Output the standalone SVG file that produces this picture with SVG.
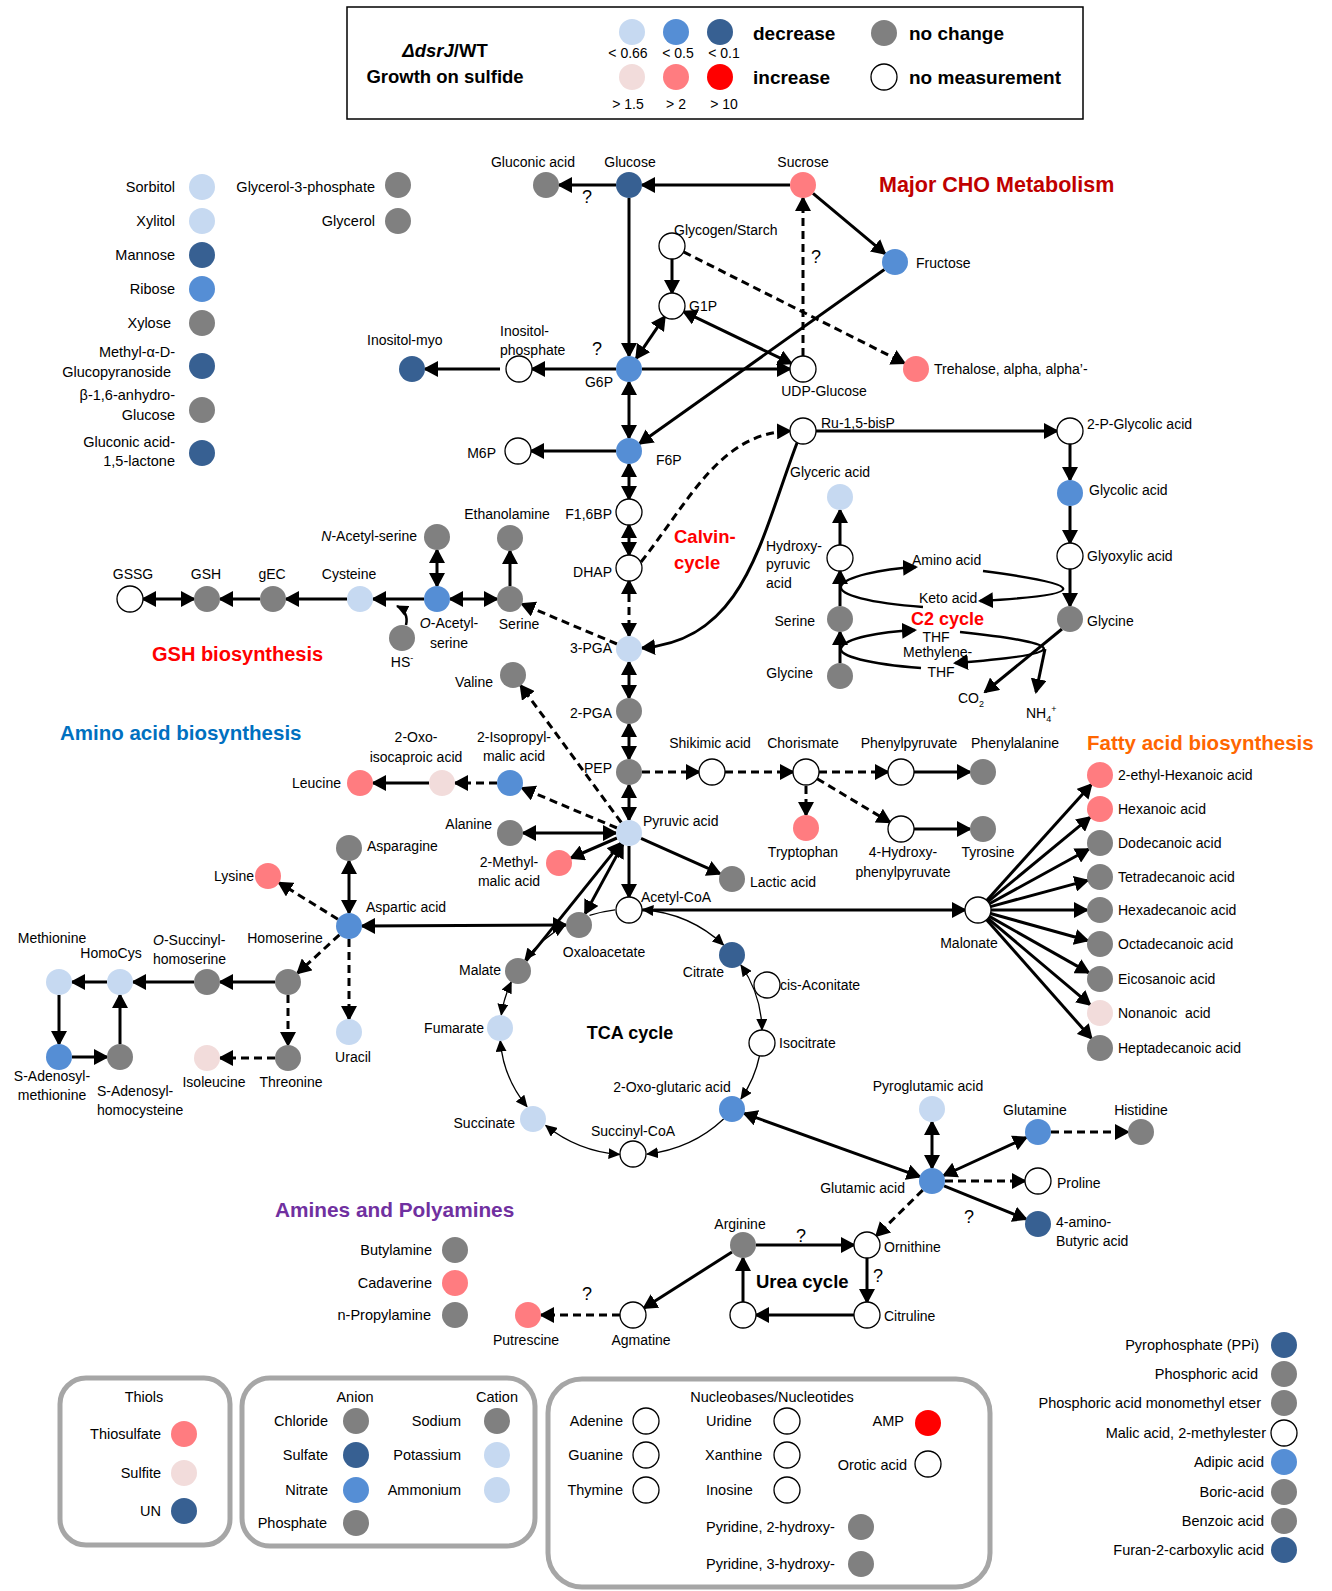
<svg xmlns="http://www.w3.org/2000/svg" width="1332" height="1591" viewBox="0 0 1332 1591">
<style>
text{font-family:"Liberation Sans",Arial,sans-serif;font-size:14px;fill:#000}
.s{font-size:14.5px}
.m{text-anchor:middle}
.e{text-anchor:end}
.b{font-weight:bold}
.lb{fill:#C6D9F1}.mb{fill:#558ED5}.db{fill:#376092}.pp{fill:#F2DCDB}.sa{fill:#FF7C80}.rd{fill:#FF0000}.gr{fill:#808080}.wh{fill:#fff;stroke:#000;stroke-width:1.3}
.k{fill:none;stroke:#000;stroke-width:3}
.d{stroke-dasharray:8 5}
.th{stroke-width:1.3}
.q{font-size:18px}
.box{fill:none;stroke:#A6A6A6;stroke-width:5}
</style>
<defs>
<marker id="ah" viewBox="0 0 15 16" refX="13" refY="8" markerWidth="15" markerHeight="16" markerUnits="userSpaceOnUse" orient="auto-start-reverse"><path d="M0,0 L15,8 L0,16 z" fill="#000"/></marker>
<marker id="as" viewBox="0 0 12 11" refX="11" refY="5.5" markerWidth="12" markerHeight="11" markerUnits="userSpaceOnUse" orient="auto-start-reverse"><path d="M0,0 L12,5.5 L0,11 z" fill="#000"/></marker>
</defs>
<rect width="1332" height="1591" fill="#fff"/>

<g id="legend">
<rect x="347" y="7" width="736" height="112" fill="#fff" stroke="#000" stroke-width="1.5"/>
<text class="b m" x="445" y="57" style="font-size:18.5px"><tspan font-style="italic">ΔdsrJ</tspan>/WT</text>
<text class="b m" x="445" y="83" style="font-size:18.5px">Growth on sulfide</text>
<circle class="lb" cx="632" cy="32" r="13"/><circle class="mb" cx="676" cy="32" r="13"/><circle class="db" cx="720" cy="32" r="13"/>
<circle class="pp" cx="632" cy="77" r="13"/><circle class="sa" cx="676" cy="77" r="13"/><circle class="rd" cx="720" cy="77" r="13"/>
<text class="m" x="628" y="58">&lt; 0.66</text><text class="m" x="678" y="58">&lt; 0.5</text><text class="m" x="724" y="58">&lt; 0.1</text>
<text class="m" x="628" y="109">&gt; 1.5</text><text class="m" x="676" y="109">&gt; 2</text><text class="m" x="724" y="109">&gt; 10</text>
<text class="b" x="753" y="40" style="font-size:19px">decrease</text>
<text class="b" x="753" y="84" style="font-size:19px">increase</text>
<circle class="gr" cx="884" cy="33" r="13"/><circle class="wh" cx="884" cy="77" r="13"/>
<text class="b" x="909" y="40" style="font-size:19px">no change</text>
<text class="b" x="909" y="84" style="font-size:19px">no measurement</text>
</g>

<g id="titles">
<text class="b" x="879" y="192" style="font-size:21.5px;fill:#C00000">Major CHO Metabolism</text>
<text class="b" x="674" y="543" style="font-size:18.5px;fill:#FF0000">Calvin-</text>
<text class="b" x="674" y="569" style="font-size:18.5px;fill:#FF0000">cycle</text>
<text class="b" x="911" y="625" style="font-size:18px;fill:#FF0000">C2 cycle</text>
<text class="b" x="152" y="661" style="font-size:20px;fill:#FF0000">GSH biosynthesis</text>
<text class="b" x="60" y="740" style="font-size:20.5px;fill:#0070C0">Amino acid biosynthesis</text>
<text class="b" x="1087" y="750" style="font-size:20.5px;fill:#FF6600">Fatty acid biosynthesis</text>
<text class="b m" x="630" y="1039" style="font-size:18px">TCA cycle</text>
<text class="b" x="756" y="1288" style="font-size:18.5px">Urea cycle</text>
<text class="b" x="275" y="1217" style="font-size:20.8px;fill:#7030A0">Amines and Polyamines</text>
</g>

<g id="connectors">
<path class="k" d="M616 185 L559 185" marker-end="url(#ah)"/>
<path class="k" d="M790 185 L642 185" marker-end="url(#ah)"/>
<path class="k" d="M813 193.3 L885 253.7" marker-end="url(#ah)"/>
<path class="k" d="M629 198 L629 356" marker-end="url(#ah)"/>
<path class="k" d="M672 259 L672 293" marker-end="url(#ah)"/>
<path class="k" d="M636.3 358.3 L664.7 316.7" marker-start="url(#ah)" marker-end="url(#ah)"/>
<path class="k" d="M683.7 311.6 L791.3 363.4" marker-start="url(#ah)" marker-end="url(#ah)"/>
<path class="k" d="M642 369 L790 369" marker-end="url(#ah)"/>
<path class="k d" d="M803 356 L803 198" marker-end="url(#ah)"/>
<path class="k d" d="M683.6 251.9 L904.4 363.1" marker-end="url(#ah)"/>
<path class="k" d="M616 369 L532 369" marker-end="url(#ah)"/>
<path class="k" d="M500 369 L425 369" marker-end="url(#ah)"/>
<path class="k" d="M884.4 269.5 L639.6 443.5" marker-end="url(#ah)"/>
<path class="k" d="M629 382 L629 438" marker-start="url(#ah)" marker-end="url(#ah)"/>
<path class="k" d="M616 451 L531 451" marker-end="url(#ah)"/>
<path class="k" d="M629 464 L629 499" marker-start="url(#ah)" marker-end="url(#ah)"/>
<path class="k" d="M629 525 L629 555" marker-start="url(#ah)" marker-end="url(#ah)"/>
<path class="k d" d="M629 581 L629 636" marker-start="url(#ah)" marker-end="url(#ah)"/>
<path class="k" d="M629 662 L629 698" marker-start="url(#ah)" marker-end="url(#ah)"/>
<path class="k" d="M629 724 L629 759" marker-start="url(#ah)" marker-end="url(#ah)"/>
<path class="k" d="M629 785 L629 820" marker-start="url(#ah)" marker-end="url(#ah)"/>
<path class="k" d="M629 846 L629 897" marker-end="url(#ah)"/>
<path class="k d" d="M641 562 C690 500 720 433 790 431" marker-end="url(#ah)"/>
<path class="k" d="M797 443 C760 540 745 640 642 648" marker-end="url(#ah)"/>
<path class="k" d="M816 431 L1057 431" marker-end="url(#ah)"/>
<path class="k" d="M1070 444 L1070 480" marker-end="url(#ah)"/>
<path class="k" d="M1070 506 L1070 543" marker-end="url(#ah)"/>
<path class="k" d="M1070 569 L1070 606" marker-end="url(#ah)"/>
<path class="k" d="M1062 629 L985 692" marker-end="url(#ah)"/>
<path class="k" d="M1045 649 L1036 692" marker-end="url(#ah)"/>
<path class="k" d="M840 606 L840 571" marker-end="url(#ah)"/>
<path class="k" d="M840 545 L840 510" marker-end="url(#ah)"/>
<path class="k" d="M840 663 L840 632" marker-end="url(#ah)"/>
<path class="k" style="stroke-width:2.5" d="M923 607 C870 603 838 595 841 586 C845 577 880 569 916 567" marker-end="url(#ah)"/>
<path class="k" style="stroke-width:2.5" d="M983 571 Q1145 592 980 601" marker-end="url(#ah)"/>
<path class="k" style="stroke-width:2.5" d="M921 668 C868 664 838 656 841 648 C845 638 880 632 915 630" marker-end="url(#ah)"/>
<path class="k" style="stroke-width:2.5" d="M960 632 Q1130 650 955 663" marker-end="url(#ah)"/>
<path class="k" d="M510 586 L510 551" marker-end="url(#ah)"/>
<path class="k d" d="M617 644 L522 604" marker-end="url(#ah)"/>
<path class="k" d="M497 599 L450 599" marker-start="url(#ah)" marker-end="url(#ah)"/>
<path class="k" d="M437 550 L437 586" marker-start="url(#ah)" marker-end="url(#ah)"/>
<path class="k" d="M424 599 L373 599" marker-end="url(#ah)"/>
<path class="k" d="M347 599 L286 599" marker-end="url(#ah)"/>
<path class="k" d="M260 599 L220 599" marker-end="url(#ah)"/>
<path class="k" d="M143 599 L194 599" marker-start="url(#ah)" marker-end="url(#ah)"/>
<path class="k" style="stroke-width:2.5" d="M406 625 Q409 612 397 606" marker-end="url(#as)"/>
<path class="k d" d="M621.3 822.5 L520.7 685.5" marker-end="url(#ah)"/>
<path class="k d" d="M617 828 L522 788" marker-end="url(#ah)"/>
<path class="k d" d="M497 783 L455 783" marker-end="url(#ah)"/>
<path class="k" d="M429 783 L373 783" marker-end="url(#ah)"/>
<path class="k" d="M523 833 L616 833" marker-start="url(#ah)" marker-end="url(#ah)"/>
<path class="k" d="M617 838 L571 858" marker-end="url(#ah)"/>
<path class="k" d="M641 838.3 L720 873.7" marker-end="url(#ah)"/>
<path class="k" d="M622.8 844.4 L585.2 913.6" marker-start="url(#ah)" marker-end="url(#ah)"/>
<path class="k" d="M526.1 960.9 L620.9 843.1" marker-end="url(#ah)"/>
<path class="k" d="M642 910 L965 910" marker-end="url(#ah)"/>
<path class="k" d="M986.7 900.4 L1091.3 784.6" marker-end="url(#ah)"/>
<path class="k" d="M988 901.7 L1090 817.3" marker-end="url(#ah)"/>
<path class="k" d="M989.4 903.7 L1088.6 849.3" marker-end="url(#ah)"/>
<path class="k" d="M990.5 906.6 L1087.5 880.4" marker-end="url(#ah)"/>
<path class="k" d="M991 910 L1087 910" marker-end="url(#ah)"/>
<path class="k" d="M990.5 913.5 L1087.5 940.5" marker-end="url(#ah)"/>
<path class="k" d="M989.3 916.4 L1088.7 972.6" marker-end="url(#ah)"/>
<path class="k" d="M987.9 918.4 L1090.1 1004.6" marker-end="url(#ah)"/>
<path class="k" d="M986.6 919.7 L1091.4 1038.3" marker-end="url(#ah)"/>
<path class="k d" d="M642 772 L699 772" marker-end="url(#ah)"/>
<path class="k d" d="M725 772 L793 772" marker-end="url(#ah)"/>
<path class="k d" d="M819 772 L888 772" marker-end="url(#ah)"/>
<path class="k" d="M914 772 L970 772" marker-end="url(#ah)"/>
<path class="k d" d="M806 786 L806 815" marker-end="url(#ah)"/>
<path class="k d" d="M817.1 778.7 L889.9 822.3" marker-end="url(#ah)"/>
<path class="k" d="M914 829 L970 829" marker-end="url(#ah)"/>
<path class="k th" d="M589.5 915.4 A131 123 0 0 1 615 909.9"/>
<path class="k th" d="M642.4 909.5 A131 123 0 0 1 723.6 945" marker-start="url(#as)" marker-end="url(#as)"/>
<path class="k th" d="M740.9 965 A131 123 0 0 1 762 1029.9" marker-start="url(#as)" marker-end="url(#as)"/>
<path class="k th" d="M759.6 1055.5 A131 123 0 0 1 740.9 1099" marker-end="url(#as)"/>
<path class="k th" d="M723.6 1119 A131 123 0 0 1 647 1154.1" marker-end="url(#as)"/>
<path class="k th" d="M619.6 1154.5 A131 123 0 0 1 545.7 1125.4" marker-start="url(#as)" marker-end="url(#as)"/>
<path class="k th" d="M527 1106.7 A131 123 0 0 1 500.3 1040.6" marker-start="url(#as)" marker-end="url(#as)"/>
<path class="k th" d="M501.3 1014.9 A131 123 0 0 1 511.3 982" marker-start="url(#as)" marker-end="url(#as)"/>
<path class="k th" d="M525 959.7 A131 123 0 0 1 564.5 926" marker-start="url(#as)" marker-end="url(#as)"/>
<path class="k" d="M362 926 L566 925" marker-start="url(#ah)" marker-end="url(#ah)"/>
<path class="k" d="M349 861 L349 913" marker-start="url(#ah)" marker-end="url(#ah)"/>
<path class="k d" d="M337.9 919.2 L279.1 882.8" marker-end="url(#ah)"/>
<path class="k d" d="M349 939 L349 1019" marker-end="url(#ah)"/>
<path class="k d" d="M339.4 934.8 L297.6 973.2" marker-end="url(#ah)"/>
<path class="k" d="M275 982 L220 982" marker-end="url(#ah)"/>
<path class="k" d="M194 982 L133 982" marker-end="url(#ah)"/>
<path class="k" d="M107 982 L72 982" marker-end="url(#ah)"/>
<path class="k" d="M59 995 L59 1044" marker-end="url(#ah)"/>
<path class="k" d="M72 1057 L107 1057" marker-end="url(#ah)"/>
<path class="k" d="M120 1044 L120 995" marker-end="url(#ah)"/>
<path class="k d" d="M288 995 L288 1045" marker-end="url(#ah)"/>
<path class="k d" d="M275 1058 L220 1058" marker-end="url(#ah)"/>
<path class="k" d="M919.8 1176.6 L744.2 1113.4" marker-start="url(#ah)" marker-end="url(#ah)"/>
<path class="k" d="M932 1168 L932 1122" marker-start="url(#ah)" marker-end="url(#ah)"/>
<path class="k" d="M943.8 1175.5 L1026.2 1137.5" marker-start="url(#ah)" marker-end="url(#ah)"/>
<path class="k d" d="M1051 1132 L1128 1132" marker-end="url(#ah)"/>
<path class="k d" d="M945 1181 L1025 1181" marker-end="url(#ah)"/>
<path class="k" d="M944 1185.9 L1026 1219.1" marker-end="url(#ah)"/>
<path class="k d" d="M922.7 1190.1 L876.3 1235.9" marker-end="url(#ah)"/>
<path class="k" d="M756 1245 L854 1245" marker-end="url(#ah)"/>
<path class="k" d="M867 1258 L867 1302" marker-end="url(#ah)"/>
<path class="k" d="M854 1315 L756 1315" marker-end="url(#ah)"/>
<path class="k" d="M743 1302 L743 1258" marker-end="url(#ah)"/>
<path class="k" d="M732 1252 L644 1308" marker-end="url(#ah)"/>
<path class="k d" d="M620 1315 L541 1315" marker-end="url(#ah)"/>
<text class="m q" x="587" y="203">?</text>
<text class="m q" x="816" y="263">?</text>
<text class="m q" x="597" y="355">?</text>
<text class="m q" x="801" y="1242">?</text>
<text class="m q" x="878" y="1282">?</text>
<text class="m q" x="969" y="1223">?</text>
<text class="m q" x="587" y="1300">?</text>
</g>

<g id="c2-labels">
<text x="912" y="565">Amino acid</text>
<text x="919" y="603">Keto acid</text>
<text class="m" x="936" y="642">THF</text>
<text x="903" y="657">Methylene-</text>
<text class="m" x="941" y="677">THF</text>
<text x="958" y="703">CO<tspan font-size="9" dy="4">2</tspan></text>
<text x="1026" y="718">NH<tspan font-size="9" dy="4">4</tspan><tspan font-size="9" dy="-10">+</tspan></text>
</g>

<g id="side-sugars">
<g id="n-sorbitol"><circle class="lb" cx="202" cy="187" r="13"/><text class="e s" x="175" y="192">Sorbitol</text></g>
<g id="n-xylitol"><circle class="lb" cx="202" cy="221" r="13"/><text class="e s" x="175" y="226">Xylitol</text></g>
<g id="n-mannose"><circle class="db" cx="202" cy="255" r="13"/><text class="e s" x="175" y="260">Mannose</text></g>
<g id="n-ribose"><circle class="mb" cx="202" cy="289" r="13"/><text class="e s" x="175" y="294">Ribose</text></g>
<g id="n-xylose"><circle class="gr" cx="202" cy="323" r="13"/><text class="e s" x="171" y="328">Xylose</text></g>
<g id="n-methylglc"><circle class="db" cx="202" cy="366" r="13"/><text class="e s" x="175" y="357">Methyl-α-D-</text><text class="e s" x="171" y="377">Glucopyranoside</text></g>
<g id="n-anhydroglc"><circle class="gr" cx="202" cy="410" r="13"/><text class="e s" x="175" y="400">β-1,6-anhydro-</text><text class="e s" x="175" y="420">Glucose</text></g>
<g id="n-gluconolactone"><circle class="db" cx="202" cy="453" r="13"/><text class="e s" x="175" y="447">Gluconic acid-</text><text class="e s" x="175" y="466">1,5-lactone</text></g>
<g id="n-g3p"><circle class="gr" cx="398" cy="185" r="13"/><text class="e s" x="375" y="192">Glycerol-3-phosphate</text></g>
<g id="n-glycerol"><circle class="gr" cx="398" cy="221" r="13"/><text class="e s" x="375" y="226">Glycerol</text></g>
</g>

<g id="nodes">
<g id="n-gluconic"><circle class="gr" cx="546" cy="185" r="13"/><text class="m" x="533" y="167">Gluconic acid</text></g>
<g id="n-glucose"><circle class="db" cx="629" cy="185" r="13"/><text class="m" x="630" y="167">Glucose</text></g>
<g id="n-sucrose"><circle class="sa" cx="803" cy="185" r="13"/><text class="m" x="803" y="167">Sucrose</text></g>
<g id="n-fructose"><circle class="mb" cx="895" cy="262" r="13"/><text x="916" y="268">Fructose</text></g>
<g id="n-glycogen"><circle class="wh" cx="672" cy="246" r="13"/><text x="674" y="235">Glycogen/Starch</text></g>
<g id="n-g1p"><circle class="wh" cx="672" cy="306" r="13"/><text x="689" y="311">G1P</text></g>
<g id="n-g6p"><circle class="mb" cx="629" cy="369" r="13"/><text class="m" x="599" y="387">G6P</text></g>
<g id="n-udpglc"><circle class="wh" cx="803" cy="369" r="13"/><text class="m" x="824" y="396">UDP-Glucose</text></g>
<g id="n-trehalose"><circle class="sa" cx="916" cy="369" r="13"/><text x="934" y="374">Trehalose, alpha, alpha’-</text></g>
<g id="n-inositolp"><circle class="wh" cx="519" cy="369" r="13"/><text x="500" y="336">Inositol-</text><text x="500" y="355">phosphate</text></g>
<g id="n-inositolmyo"><circle class="db" cx="412" cy="369" r="13"/><text x="367" y="345">Inositol-myo</text></g>
<g id="n-f6p"><circle class="mb" cx="629" cy="451" r="13"/><text x="656" y="465">F6P</text></g>
<g id="n-m6p"><circle class="wh" cx="518" cy="451" r="13"/><text class="e" x="496" y="458">M6P</text></g>
<g id="n-f16bp"><circle class="wh" cx="629" cy="512" r="13"/><text class="e" x="612" y="519">F1,6BP</text></g>
<g id="n-dhap"><circle class="wh" cx="629" cy="568" r="13"/><text class="e" x="612" y="577">DHAP</text></g>
<g id="n-3pga"><circle class="lb" cx="629" cy="649" r="13"/><text class="e" x="612" y="653">3-PGA</text></g>
<g id="n-2pga"><circle class="gr" cx="629" cy="711" r="13"/><text class="e" x="612" y="718">2-PGA</text></g>
<g id="n-pep"><circle class="gr" cx="629" cy="772" r="13"/><text class="e" x="612" y="773">PEP</text></g>
<g id="n-pyruvate"><circle class="lb" cx="629" cy="833" r="13"/><text x="643" y="826">Pyruvic acid</text></g>
<g id="n-acetylcoa"><circle class="wh" cx="629" cy="910" r="13"/><text x="641" y="902">Acetyl-CoA</text></g>
<g id="n-rubp"><circle class="wh" cx="803" cy="431" r="13"/><text x="821" y="428">Ru-1,5-bisP</text></g>
<g id="n-pglycolate"><circle class="wh" cx="1070" cy="431" r="13"/><text x="1087" y="429">2-P-Glycolic acid</text></g>
<g id="n-glycolate"><circle class="mb" cx="1070" cy="493" r="13"/><text x="1089" y="495">Glycolic acid</text></g>
<g id="n-glyoxylate"><circle class="wh" cx="1070" cy="556" r="13"/><text x="1087" y="561">Glyoxylic acid</text></g>
<g id="n-glycine-r"><circle class="gr" cx="1070" cy="619" r="13"/><text x="1087" y="626">Glycine</text></g>
<g id="n-glycerate"><circle class="lb" cx="840" cy="497" r="13"/><text x="790" y="477">Glyceric acid</text></g>
<g id="n-hydroxypyruvate"><circle class="wh" cx="840" cy="558" r="13"/><text x="766" y="551">Hydroxy-</text><text x="766" y="569">pyruvic</text><text x="766" y="588">acid</text></g>
<g id="n-serine-r"><circle class="gr" cx="840" cy="619" r="13"/><text class="e" x="815" y="626">Serine</text></g>
<g id="n-glycine-l"><circle class="gr" cx="840" cy="676" r="13"/><text class="e" x="813" y="678">Glycine</text></g>
<g id="n-ethanolamine"><circle class="gr" cx="510" cy="538" r="13"/><text class="m" x="507" y="519">Ethanolamine</text></g>
<g id="n-serine-l"><circle class="gr" cx="510" cy="599" r="13"/><text class="m" x="519" y="629">Serine</text></g>
<g id="n-oas"><circle class="mb" cx="437" cy="599" r="13"/><text class="m" x="449" y="628"><tspan font-style="italic">O</tspan>-Acetyl-</text><text class="m" x="449" y="648">serine</text></g>
<g id="n-nas"><circle class="gr" cx="437" cy="537" r="13"/><text class="e" x="417" y="541"><tspan font-style="italic">N</tspan>-Acetyl-serine</text></g>
<g id="n-hs"><circle class="gr" cx="402" cy="638" r="13"/><text class="m" x="402" y="667">HS<tspan font-size="9" dy="-6">-</tspan></text></g>
<g id="n-cysteine"><circle class="lb" cx="360" cy="599" r="13"/><text class="m" x="349" y="579">Cysteine</text></g>
<g id="n-gec"><circle class="gr" cx="273" cy="599" r="13"/><text class="m" x="272" y="579">gEC</text></g>
<g id="n-gsh"><circle class="gr" cx="207" cy="599" r="13"/><text class="m" x="206" y="579">GSH</text></g>
<g id="n-gssg"><circle class="wh" cx="130" cy="599" r="13"/><text class="m" x="133" y="579">GSSG</text></g>
<g id="n-valine"><circle class="gr" cx="513" cy="675" r="13"/><text class="e" x="493" y="687">Valine</text></g>
<g id="n-ipm"><circle class="mb" cx="510" cy="783" r="13"/><text class="m" x="514" y="742">2-Isopropyl-</text><text class="m" x="514" y="761">malic acid</text></g>
<g id="n-oic"><circle class="pp" cx="442" cy="783" r="13"/><text class="m" x="416" y="742">2-Oxo-</text><text class="m" x="416" y="762">isocaproic acid</text></g>
<g id="n-leucine"><circle class="sa" cx="360" cy="783" r="13"/><text class="e" x="341" y="788">Leucine</text></g>
<g id="n-alanine"><circle class="gr" cx="510" cy="833" r="13"/><text class="e" x="492" y="829">Alanine</text></g>
<g id="n-methylmalate"><circle class="sa" cx="559" cy="863" r="13"/><text class="m" x="509" y="867">2-Methyl-</text><text class="m" x="509" y="886">malic acid</text></g>
<g id="n-lactate"><circle class="gr" cx="732" cy="879" r="13"/><text x="750" y="887">Lactic acid</text></g>
<g id="n-shikimate"><circle class="wh" cx="712" cy="772" r="13"/><text class="m" x="710" y="748">Shikimic acid</text></g>
<g id="n-chorismate"><circle class="wh" cx="806" cy="772" r="13"/><text class="m" x="803" y="748">Chorismate</text></g>
<g id="n-phenylpyruvate"><circle class="wh" cx="901" cy="772" r="13"/><text class="m" x="909" y="748">Phenylpyruvate</text></g>
<g id="n-phenylalanine"><circle class="gr" cx="983" cy="772" r="13"/><text class="m" x="1015" y="748">Phenylalanine</text></g>
<g id="n-tryptophan"><circle class="sa" cx="806" cy="828" r="13"/><text class="m" x="803" y="857">Tryptophan</text></g>
<g id="n-hpp"><circle class="wh" cx="901" cy="829" r="13"/><text class="m" x="903" y="857">4-Hydroxy-</text><text class="m" x="903" y="877">phenylpyruvate</text></g>
<g id="n-tyrosine"><circle class="gr" cx="983" cy="829" r="13"/><text class="m" x="988" y="857">Tyrosine</text></g>
<g id="n-malonate"><circle class="wh" cx="978" cy="910" r="13"/><text class="m" x="969" y="948">Malonate</text></g>
<g id="n-ethylhexanoic"><circle class="sa" cx="1100" cy="775" r="13"/><text x="1118" y="780">2-ethyl-Hexanoic acid</text></g>
<g id="n-hexanoic"><circle class="sa" cx="1100" cy="809" r="13"/><text x="1118" y="814">Hexanoic acid</text></g>
<g id="n-dodecanoic"><circle class="gr" cx="1100" cy="843" r="13"/><text x="1118" y="848">Dodecanoic acid</text></g>
<g id="n-tetradecanoic"><circle class="gr" cx="1100" cy="877" r="13"/><text x="1118" y="882">Tetradecanoic acid</text></g>
<g id="n-hexadecanoic"><circle class="gr" cx="1100" cy="910" r="13"/><text x="1118" y="915">Hexadecanoic acid</text></g>
<g id="n-octadecanoic"><circle class="gr" cx="1100" cy="944" r="13"/><text x="1118" y="949">Octadecanoic acid</text></g>
<g id="n-eicosanoic"><circle class="gr" cx="1100" cy="979" r="13"/><text x="1118" y="984">Eicosanoic acid</text></g>
<g id="n-nonanoic"><circle class="pp" cx="1100" cy="1013" r="13"/><text x="1118" y="1018" xml:space="preserve">Nonanoic  acid</text></g>
<g id="n-heptadecanoic"><circle class="gr" cx="1100" cy="1048" r="13"/><text x="1118" y="1053">Heptadecanoic acid</text></g>
<g id="n-oxaloacetate"><circle class="gr" cx="579" cy="925" r="13"/><text class="m" x="604" y="957">Oxaloacetate</text></g>
<g id="n-malate"><circle class="gr" cx="518" cy="971" r="13"/><text class="e" x="501" y="975">Malate</text></g>
<g id="n-fumarate"><circle class="lb" cx="500" cy="1028" r="13"/><text class="e" x="484" y="1033">Fumarate</text></g>
<g id="n-succinate"><circle class="lb" cx="533" cy="1119" r="13"/><text class="e" x="515" y="1128">Succinate</text></g>
<g id="n-succinylcoa"><circle class="wh" cx="633" cy="1154" r="13"/><text class="m" x="633" y="1136">Succinyl-CoA</text></g>
<g id="n-oxoglutarate"><circle class="mb" cx="732" cy="1109" r="13"/><text class="m" x="672" y="1092">2-Oxo-glutaric acid</text></g>
<g id="n-isocitrate"><circle class="wh" cx="762" cy="1043" r="13"/><text x="779" y="1048">Isocitrate</text></g>
<g id="n-cisaconitate"><circle class="wh" cx="767" cy="985" r="13"/><text x="780" y="990">cis-Aconitate</text></g>
<g id="n-citrate"><circle class="db" cx="732" cy="955" r="13"/><text class="e" x="724" y="977">Citrate</text></g>
<g id="n-asparagine"><circle class="gr" cx="349" cy="848" r="13"/><text x="367" y="851">Asparagine</text></g>
<g id="n-aspartate"><circle class="mb" cx="349" cy="926" r="13"/><text x="366" y="912">Aspartic acid</text></g>
<g id="n-lysine"><circle class="sa" cx="268" cy="876" r="13"/><text class="e" x="254" y="881">Lysine</text></g>
<g id="n-uracil"><circle class="lb" cx="349" cy="1032" r="13"/><text class="m" x="353" y="1062">Uracil</text></g>
<g id="n-homoserine"><circle class="gr" cx="288" cy="982" r="13"/><text class="m" x="285" y="943">Homoserine</text></g>
<g id="n-osh"><circle class="gr" cx="207" cy="982" r="13"/><text x="153" y="945"><tspan font-style="italic">O</tspan>-Succinyl-</text><text x="153" y="964">homoserine</text></g>
<g id="n-homocys"><circle class="lb" cx="120" cy="982" r="13"/><text class="m" x="111" y="958">HomoCys</text></g>
<g id="n-methionine"><circle class="lb" cx="59" cy="982" r="13"/><text class="m" x="52" y="943">Methionine</text></g>
<g id="n-sam"><circle class="mb" cx="59" cy="1057" r="13"/><text class="m" x="52" y="1081">S-Adenosyl-</text><text class="m" x="52" y="1100">methionine</text></g>
<g id="n-sah"><circle class="gr" cx="120" cy="1057" r="13"/><text x="97" y="1096">S-Adenosyl-</text><text x="97" y="1115">homocysteine</text></g>
<g id="n-threonine"><circle class="gr" cx="288" cy="1058" r="13"/><text class="m" x="291" y="1087">Threonine</text></g>
<g id="n-isoleucine"><circle class="pp" cx="207" cy="1058" r="13"/><text class="m" x="214" y="1087">Isoleucine</text></g>
<g id="n-pyroglutamate"><circle class="lb" cx="932" cy="1109" r="13"/><text class="m" x="928" y="1091">Pyroglutamic acid</text></g>
<g id="n-glutamate"><circle class="mb" cx="932" cy="1181" r="13"/><text class="e" x="905" y="1193">Glutamic acid</text></g>
<g id="n-glutamine"><circle class="mb" cx="1038" cy="1132" r="13"/><text class="m" x="1035" y="1115">Glutamine</text></g>
<g id="n-histidine"><circle class="gr" cx="1141" cy="1132" r="13"/><text class="m" x="1141" y="1115">Histidine</text></g>
<g id="n-proline"><circle class="wh" cx="1038" cy="1181" r="13"/><text x="1057" y="1188">Proline</text></g>
<g id="n-gaba"><circle class="db" cx="1038" cy="1224" r="13"/><text x="1056" y="1227">4-amino-</text><text x="1056" y="1246">Butyric acid</text></g>
<g id="n-arginine"><circle class="gr" cx="743" cy="1245" r="13"/><text class="m" x="740" y="1229">Arginine</text></g>
<g id="n-ornithine"><circle class="wh" cx="867" cy="1245" r="13"/><text x="884" y="1252">Ornithine</text></g>
<g id="n-citruline"><circle class="wh" cx="867" cy="1315" r="13"/><text x="884" y="1321">Citruline</text></g>
<g id="n-urea-unnamed"><circle class="wh" cx="743" cy="1315" r="13"/></g>
<g id="n-agmatine"><circle class="wh" cx="633" cy="1315" r="13"/><text class="m" x="641" y="1345">Agmatine</text></g>
<g id="n-putrescine"><circle class="sa" cx="528" cy="1315" r="13"/><text class="m" x="526" y="1345">Putrescine</text></g>
</g>

<g id="amines">
<g id="n-butylamine"><circle class="gr" cx="455" cy="1250" r="13"/><text class="e s" x="432" y="1255">Butylamine</text></g>
<g id="n-cadaverine"><circle class="sa" cx="455" cy="1283" r="13"/><text class="e s" x="432" y="1288">Cadaverine</text></g>
<g id="n-propylamine"><circle class="gr" cx="455" cy="1315" r="13"/><text class="e s" x="431" y="1320">n-Propylamine</text></g>
</g>

<g id="box-thiols">
<rect class="box" x="60" y="1378" width="170" height="167" rx="26"/>
<text class="m s" x="144" y="1402">Thiols</text>
<circle class="sa" cx="184" cy="1434" r="13"/><text class="e s" x="161" y="1439">Thiosulfate</text>
<circle class="pp" cx="184" cy="1473" r="13"/><text class="e s" x="161" y="1478">Sulfite</text>
<circle class="db" cx="184" cy="1511" r="13"/><text class="e s" x="161" y="1516">UN</text>
</g>

<g id="box-ions">
<rect class="box" x="242" y="1378" width="293" height="168" rx="28"/>
<text class="m s" x="355" y="1402">Anion</text>
<text class="m s" x="497" y="1402">Cation</text>
<circle class="gr" cx="356" cy="1421" r="13"/><text class="e s" x="328" y="1426">Chloride</text>
<circle class="db" cx="356" cy="1455" r="13"/><text class="e s" x="328" y="1460">Sulfate</text>
<circle class="mb" cx="356" cy="1490" r="13"/><text class="e s" x="328" y="1495">Nitrate</text>
<circle class="gr" cx="356" cy="1523" r="13"/><text class="e s" x="327" y="1528">Phosphate</text>
<circle class="gr" cx="497" cy="1421" r="13"/><text class="e s" x="461" y="1426">Sodium</text>
<circle class="lb" cx="497" cy="1455" r="13"/><text class="e s" x="461" y="1460">Potassium</text>
<circle class="lb" cx="497" cy="1490" r="13"/><text class="e s" x="461" y="1495">Ammonium</text>
</g>

<g id="box-nucleo">
<rect class="box" x="548" y="1379" width="442" height="208" rx="34"/>
<text class="m s" x="772" y="1402">Nucleobases/Nucleotides</text>
<circle class="wh" cx="646" cy="1421" r="13"/><text class="e s" x="623" y="1426">Adenine</text>
<circle class="wh" cx="646" cy="1455" r="13"/><text class="e s" x="623" y="1460">Guanine</text>
<circle class="wh" cx="646" cy="1490" r="13"/><text class="e s" x="623" y="1495">Thymine</text>
<circle class="wh" cx="787" cy="1421" r="13"/><text class="s" x="706" y="1426">Uridine</text>
<circle class="wh" cx="787" cy="1455" r="13"/><text class="s" x="705" y="1460">Xanthine</text>
<circle class="wh" cx="787" cy="1490" r="13"/><text class="s" x="706" y="1495">Inosine</text>
<circle class="rd" cx="928" cy="1423" r="13"/><text class="e s" x="904" y="1426">AMP</text>
<circle class="wh" cx="928" cy="1464" r="13"/><text class="e s" x="907" y="1470">Orotic acid</text>
<circle class="gr" cx="861" cy="1527" r="13"/><text class="s" x="706" y="1532">Pyridine, 2-hydroxy-</text>
<circle class="gr" cx="861" cy="1564" r="13"/><text class="s" x="706" y="1569">Pyridine, 3-hydroxy-</text>
</g>

<g id="side-others">
<circle class="db" cx="1284" cy="1345" r="13"/><text class="e s" x="1259" y="1350">Pyrophosphate (PPi)</text>
<circle class="gr" cx="1284" cy="1374" r="13"/><text class="e s" x="1258" y="1379">Phosphoric acid</text>
<circle class="gr" cx="1284" cy="1403" r="13"/><text class="e s" x="1261" y="1408">Phosphoric acid monomethyl etser</text>
<circle class="wh" cx="1284" cy="1433" r="13"/><text class="e s" x="1266" y="1438">Malic acid, 2-methylester</text>
<circle class="mb" cx="1284" cy="1462" r="13"/><text class="e s" x="1264" y="1467">Adipic acid</text>
<circle class="gr" cx="1284" cy="1492" r="13"/><text class="e s" x="1264" y="1497">Boric-acid</text>
<circle class="gr" cx="1284" cy="1521" r="13"/><text class="e s" x="1264" y="1526">Benzoic acid</text>
<circle class="db" cx="1284" cy="1550" r="13"/><text class="e s" x="1264" y="1555">Furan-2-carboxylic acid</text>
</g>
</svg>
